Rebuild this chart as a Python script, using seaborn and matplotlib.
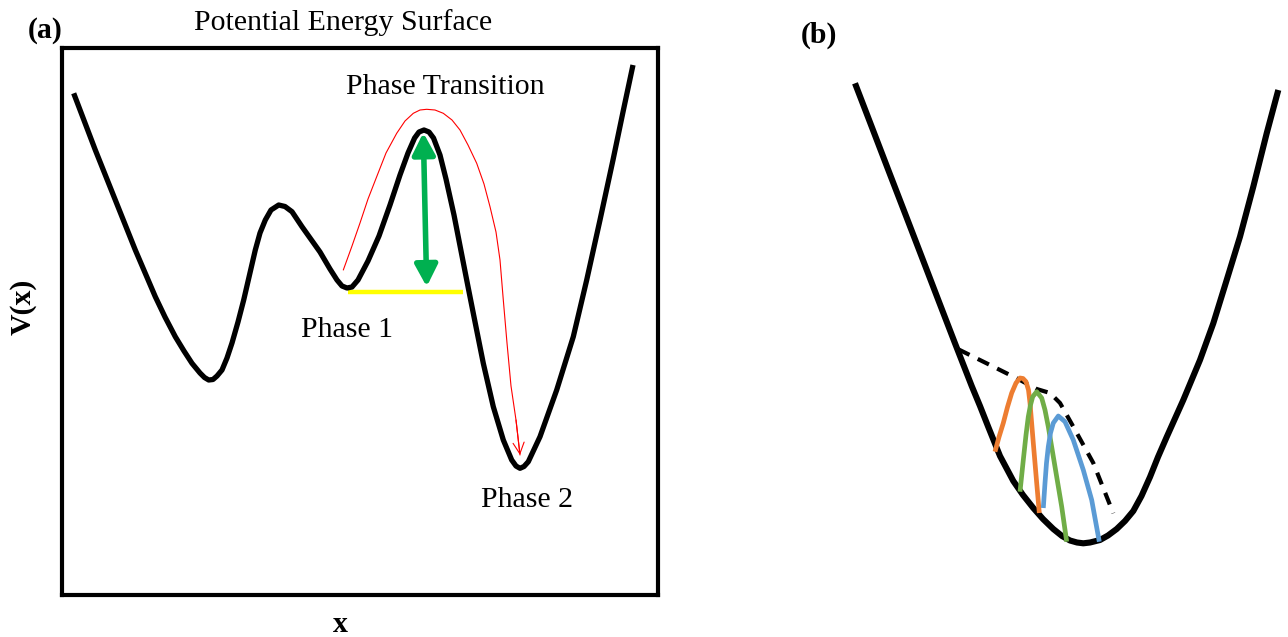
import matplotlib
matplotlib.use("Agg")
import matplotlib.pyplot as plt
import numpy as np
import pandas as pd
import seaborn as sns

# ---------------- data (pixel frame of the figure) -------------
# Panel (a): potential energy surface V(x)
pes_x = [73.7, 95.3, 115.3, 135.3, 155.3, 165, 175.3, 184, 192, 200, 204.5, 208.7, 213,
         217, 222, 227, 232, 238, 243.7, 249.5, 255.3, 260, 265.3, 271, 278.7, 285, 292,
         302, 320, 330, 337, 342, 347, 352, 358, 368, 379, 390, 400, 408, 414.6, 419,
         424, 429, 433.5, 440, 446, 454, 466.7, 473.3, 483.3, 493.3, 503.3, 511.7, 516,
         520, 524, 528.3, 540, 556.7, 573.3, 586.7, 600, 613, 623, 633]
pes_v = [93.3, 150, 200, 250, 296.7, 317, 336.7, 351, 363.3, 373, 377.5, 380, 379.5,
         376, 370, 358, 343, 322, 300, 275, 250, 233, 220, 210, 205, 206.5, 211.7,
         226.7, 252, 269, 280, 286, 288, 287, 280, 261, 236, 205, 175, 153, 138, 132,
         130, 132, 138, 155, 179, 215, 280, 313.3, 363.3, 406.7, 440, 460, 466,
         468.3, 466.5, 461.7, 436.7, 390, 336.7, 280, 220, 160, 112, 65]

# red "phase transition" path
path_x = [343.3, 352, 360, 368, 376.7, 386, 396.7, 405, 413.3, 420, 426.7, 435, 443.3,
          452, 460, 468, 476.7, 484, 490, 496, 500, 503.3, 507, 511, 516, 520]
path_v = [270, 246, 223, 199, 176.7, 153, 133.3, 121, 113.3, 110, 109.3, 110, 113.3,
          120, 130, 145, 163.3, 184, 206.7, 232, 260, 300, 343, 386, 420, 455]

# barrier height arrow (green) and phase-1 level (yellow)
barrier_x = [423.3, 426.7]
barrier_v = [132.7, 286.7]
level_x = [348, 463]
level_v = [291.7, 291.7]

# Panel (b): harmonic well
well_x = [855, 871.7, 888.3, 905, 921.7, 938.3, 955, 971.7, 980, 988.3, 1000, 1013.3, 1023,
          1033.3, 1043, 1053.3, 1062, 1070, 1077, 1083.3, 1090, 1100, 1108, 1116.7, 1125,
          1133.3, 1141.5, 1150, 1158, 1166.7, 1183.3, 1200, 1213.3, 1226.7, 1240, 1253.3,
          1266.7, 1278.3]
well_v = [83.3, 126.7, 170, 213.3, 256.7, 300, 343.3, 386, 406, 427, 456, 481, 495,
          508, 519, 529, 536, 540.5, 542.5, 543.3, 542.5, 540, 535.5, 529, 521,
          511, 496, 477, 457, 437, 400, 360, 323.3, 280, 236.7, 186.7,
          133.3, 90]

# envelope (dashed)
env_x = [958.3, 990, 1020, 1036.7, 1050, 1060, 1073.3, 1093.3, 1113.3]
env_v = [349.3, 365, 380, 389, 393, 403, 426.7, 463, 513.3]

# three local curves
orange_x = [995, 999, 1003.3, 1007.5, 1011.7, 1016, 1020, 1023, 1026, 1028.5, 1030, 1033.3, 1036.7, 1039.3]
orange_v = [451.7, 437, 423, 407, 393, 383, 378, 378.5, 381.7, 390, 403, 443, 483, 513]
green_x = [1020, 1023.3, 1026, 1028.3, 1030.5, 1032.7, 1036.7, 1041.7, 1045, 1048.3, 1055, 1061.7, 1066.7]
green_v = [491.7, 460, 435, 416.7, 405, 396.7, 391.7, 398, 410, 426.7, 466.7, 506.7, 541.7]
blue_x = [1043.3, 1045, 1046.5, 1048.3, 1050.5, 1053.3, 1058.3, 1065, 1073.3, 1083.3, 1091.7, 1099.3]
blue_v = [508, 483, 463, 446.7, 433, 423, 416, 421.7, 440, 470, 500, 541.7]

curve_names = ["orange", "green", "blue"]
curve_colors = {"orange": "#ED7D31", "green": "#70AD47", "blue": "#5B9BD5"}

# ---------------- figure -------------------------------------------------------------
sns.set_theme(style="white")
plt.rcParams["font.family"] = ["Liberation Serif", "DejaVu Serif"]
plt.rcParams["text.color"] = "black"
plt.rcParams["axes.labelcolor"] = "black"

W, H = 1288, 637
fig = plt.figure(figsize=(12.88, 6.37), dpi=100)
fig.patch.set_facecolor("white")

# panel (a) axes: the box
ax_a = fig.add_axes([62 / W, (H - 595) / H, 596 / W, 547 / H])
ax_a.set_xlim(62, 658)
ax_a.set_ylim(595, 48)
ax_a.set_facecolor("white")

df_pes = pd.DataFrame({"x": pes_x, "V": pes_v})
sns.lineplot(data=df_pes, x="x", y="V", ax=ax_a, color="black", lw=3.8,
             sort=False, estimator=None, solid_capstyle="butt",
             solid_joinstyle="round", zorder=3)

df_path = pd.DataFrame({"x": path_x, "V": path_v})
sns.lineplot(data=df_path, x="x", y="V", ax=ax_a, color="red", lw=0.8,
             sort=False, estimator=None, zorder=2)
ax_a.annotate("", xy=(path_x[-1], path_v[-1]), xytext=(path_x[-2], path_v[-2]),
              arrowprops=dict(arrowstyle="->,head_length=0.4,head_width=0.2",
                              color="red", lw=0.8, mutation_scale=20,
                              shrinkA=0, shrinkB=0), zorder=2)

df_level = pd.DataFrame({"x": level_x, "V": level_v})
sns.lineplot(data=df_level, x="x", y="V", ax=ax_a, color="#FFFF00", lw=3.2,
             sort=False, estimator=None, solid_capstyle="butt", zorder=2)

ax_a.annotate("", xy=(barrier_x[1], barrier_v[1]), xytext=(barrier_x[0], barrier_v[0]),
              arrowprops=dict(arrowstyle="<|-|>,head_length=0.65,head_width=0.34",
                              color="#00B050", lw=4, mutation_scale=20,
                              shrinkA=0, shrinkB=0), zorder=4)

for side in ["left", "right", "top", "bottom"]:
    ax_a.spines[side].set_visible(True)
    ax_a.spines[side].set_color("black")
    ax_a.spines[side].set_linewidth(3)
ax_a.set_xticks([])
ax_a.set_yticks([])

fs = 21.5
ax_a.set_xlabel("x", fontsize=fs, fontweight="bold")
ax_a.xaxis.set_label_coords((340 - 62) / 596, (595 - 632) / 547)
ax_a.xaxis.label.set_va("baseline")
ax_a.set_ylabel("V(x)", fontsize=fs, fontweight="bold")
ax_a.yaxis.set_label_coords((23 - 62) / 596, (595 - 307) / 547)
ax_a.yaxis.label.set_va("center")

ax_a.text(343, 30.5, "Potential Energy Surface", fontsize=fs, ha="center",
          va="baseline", clip_on=False)
ax_a.text(45, 37.4, "(a)", fontsize=fs, fontweight="bold", ha="center",
          va="baseline", clip_on=False)
ax_a.text(445, 93.5, "Phase Transition", fontsize=fs, ha="center", va="baseline")
ax_a.text(347, 337, "Phase 1", fontsize=fs, ha="center", va="baseline")
ax_a.text(527, 507, "Phase 2", fontsize=fs, ha="center", va="baseline")

# panel (b)
ax_b = fig.add_axes([800 / W, 0, 488 / W, 1])
ax_b.set_xlim(800, 1288)
ax_b.set_ylim(637, 0)
ax_b.axis("off")

df_well = pd.DataFrame({"x": well_x, "V": well_v})
sns.lineplot(data=df_well, x="x", y="V", ax=ax_b, color="black", lw=4.4,
             sort=False, estimator=None, solid_capstyle="butt",
             solid_joinstyle="round", zorder=3)

df_env = pd.DataFrame({"x": env_x, "V": env_v})
sns.lineplot(data=df_env, x="x", y="V", ax=ax_b, color="black", lw=3.0,
             linestyle=(0, (3.0, 2.2)), sort=False, estimator=None, zorder=4)

df_local = pd.concat([
    pd.DataFrame({"x": orange_x, "V": orange_v, "curve": "orange"}),
    pd.DataFrame({"x": green_x, "V": green_v, "curve": "green"}),
    pd.DataFrame({"x": blue_x, "V": blue_v, "curve": "blue"}),
], ignore_index=True)
sns.lineplot(data=df_local, x="x", y="V", hue="curve", hue_order=curve_names,
             palette=curve_colors, ax=ax_b, lw=3.4, sort=False, estimator=None,
             legend=False, solid_capstyle="butt", solid_joinstyle="round", zorder=5)
for ln, z in zip(ax_b.lines[-3:], [5, 6, 7]):
    ln.set_zorder(z)

ax_b.set_xlabel("")
ax_b.set_ylabel("")
ax_b.text(819, 42.7, "(b)", fontsize=fs, fontweight="bold", ha="center", va="baseline")

fig.savefig("out.png", dpi=100, facecolor="white")
